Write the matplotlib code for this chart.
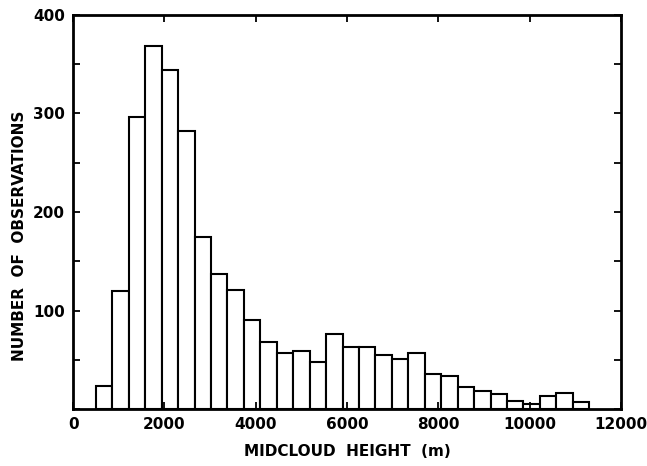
import matplotlib
matplotlib.use("Agg")
from matplotlib import pyplot as plt
from matplotlib.ticker import FuncFormatter, MultipleLocator

# histogram bins (m) and counts
bin_start = 500
bin_width = 360
counts = [23, 120, 296, 368, 344, 282, 175, 137, 121, 90,
          68, 57, 59, 48, 76, 63, 63, 55, 51, 57,
          36, 34, 22, 18, 15, 8, 5, 13, 16, 7]
edges = [bin_start + i * bin_width for i in range(len(counts) + 1)]

x_ticks = [0, 2000, 4000, 6000, 8000, 10000, 12000]

plt.rcParams['font.family'] = ['DejaVu Sans']
plt.rcParams['font.weight'] = 'bold'
plt.rcParams['axes.labelweight'] = 'bold'

fig = plt.figure(figsize=(6.47, 4.66), dpi=100)
ax = fig.add_axes([0.113, 0.122, 0.847, 0.846])

ax.bar(edges[:-1], counts, width=bin_width, align='edge',
       facecolor='white', edgecolor='black', linewidth=1.5)

ax.set_xlim(0, 12000)
ax.set_ylim(0, 400)
ax.set_xticks(x_ticks)
ax.yaxis.set_major_locator(MultipleLocator(50))
ax.yaxis.set_major_formatter(
    FuncFormatter(lambda v, pos: '' if v == 0 or v % 100 else '%d' % v))

ax.tick_params(direction='in', length=5, width=1.3, labelsize=11,
               top=True, right=True, pad=6)
for s in ax.spines.values():
    s.set_linewidth(2)

ax.set_xlabel('MIDCLOUD  HEIGHT  (m)', fontsize=11, labelpad=8)
ax.set_ylabel('NUMBER  OF  OBSERVATIONS', fontsize=11)
ax.yaxis.set_label_coords(-0.085, 0.44)

fig.savefig('out.png', dpi=100)
